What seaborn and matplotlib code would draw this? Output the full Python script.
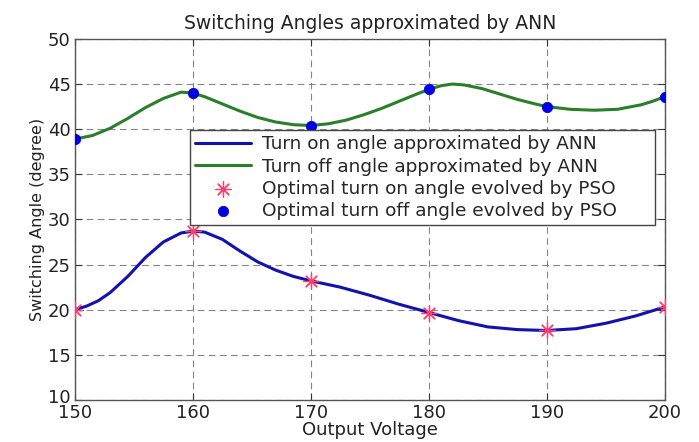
import numpy as np
import pandas as pd
import seaborn as sns
import matplotlib.pyplot as plt
from matplotlib.transforms import ScaledTranslation

# PSO optimal points
voltage = [150, 160, 170, 180, 190, 200]
pso_on = [20.0, 28.7, 23.2, 19.6, 17.7, 20.3]
pso_off = [38.9, 44.0, 40.4, 44.4, 42.5, 43.6]

# ANN curves
ann_off_x = [150, 151.5, 153, 154.5, 156, 157.5, 159, 160, 161, 162.5, 164, 165.5,
             167, 168.5, 170, 171.5, 173, 174.5, 176, 177.5, 179, 180, 181, 182,
             183, 184.5, 186, 187.5, 189, 190, 192, 194, 196, 198, 199, 200]
ann_off_y = [38.9, 39.3, 40.1, 41.2, 42.4, 43.4, 44.1, 44.0, 43.6, 42.8, 42.0, 41.3,
             40.8, 40.5, 40.4, 40.6, 41.0, 41.6, 42.3, 43.1, 43.9, 44.4, 44.8, 45.0,
             44.9, 44.5, 43.9, 43.3, 42.8, 42.5, 42.2, 42.1, 42.2, 42.7, 43.1, 43.6]
ann_on_x = [150, 151, 152, 153, 154.5, 156, 157.5, 159, 160, 161, 162.5, 164, 165.5,
            167, 168.5, 170, 172.5, 175, 177.5, 180, 182.5, 185, 187.5, 190, 192.5,
            195, 197.5, 200]
ann_on_y = [20.0, 20.4, 21.0, 21.9, 23.7, 25.8, 27.5, 28.5, 28.7, 28.6, 27.8, 26.5,
            25.3, 24.4, 23.7, 23.2, 22.5, 21.6, 20.6, 19.7, 18.8, 18.1, 17.8, 17.7,
            17.9, 18.5, 19.3, 20.3]

sns.set_style("ticks")
plt.rcParams['font.family'] = ['DejaVu Sans']

fig = plt.figure(figsize=(6.99, 4.42), dpi=100)
ax = fig.add_axes([0.107, 0.095, 0.844, 0.817])

on_df = pd.DataFrame({'x': ann_on_x, 'y': ann_on_y})
off_df = pd.DataFrame({'x': ann_off_x, 'y': ann_off_y})
sns.lineplot(data=on_df, x='x', y='y', color='#1212b0', linewidth=2.2,
             label='Turn on angle approximated by ANN', ax=ax)
sns.lineplot(data=off_df, x='x', y='y', color='#2a7f2a', linewidth=2.2,
             label='Turn off angle approximated by ANN', ax=ax)
sns.scatterplot(x=voltage, y=pso_on, marker=(8, 2, 0), s=120, color='#ff3f6a',
                linewidth=0.9, label='Optimal turn on angle evolved by PSO', ax=ax, zorder=3)
sns.scatterplot(x=voltage, y=pso_off, marker='o', s=55, color='#0000e0',
                edgecolor='#0000e0', label='Optimal turn off angle evolved by PSO', ax=ax, zorder=3)

ax.set_xlim(150, 200)
ax.set_ylim(10, 50)
ax.set_xticks(range(150, 201, 10))
ax.set_yticks(range(10, 51, 5))
ax.grid(True, color='#858585', linestyle=(0, (6, 4)), linewidth=0.8)
ax.tick_params(direction='in', length=5, labelsize=13, top=True, right=True,
               colors='#333333', labelcolor='#222222')
ax.tick_params(axis='x', pad=3)
ax.tick_params(axis='y', pad=3)
# nudge the lowest y label up a little, as in the original
ylab = ax.get_yticklabels()
ylab[0].set_transform(ylab[0].get_transform() + ScaledTranslation(0, 4 / 100, fig.dpi_scale_trans))
for s in ax.spines.values():
    s.set_color('#555555')
    s.set_linewidth(1)

ax.set_title('Switching Angles approximated by ANN', fontsize=13.5, color='#222222', pad=7)
ax.set_xlabel('Output Voltage', fontsize=13, color='#222222', labelpad=-1)
ax.set_ylabel('Switching Angle (degree)', fontsize=11.5, color='#222222', labelpad=2)

leg = ax.legend(loc='upper left', bbox_to_anchor=(0.195, 0.49, 0.788, 0.258), mode='expand',
                fontsize=13.3, frameon=True, fancybox=False, framealpha=1, edgecolor='#444444',
                handlelength=3.0, handletextpad=0.6, labelspacing=0.22,
                borderpad=0.3, borderaxespad=0)
leg.get_frame().set_linewidth(1)

fig.savefig('out.png', dpi=100)
